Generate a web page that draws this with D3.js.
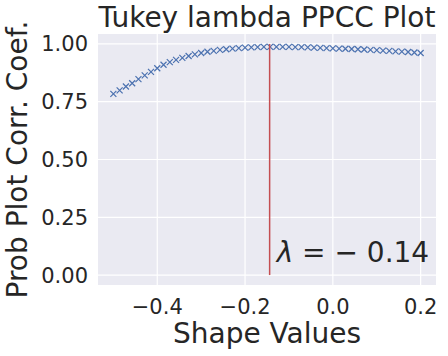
<!DOCTYPE html>
<html>
<head>
<meta charset="utf-8">
<script src="https://cdn.jsdelivr.net/npm/d3@7"></script>
<style>
  body { margin: 0; background: #fff; }
  text { font-family: "DejaVu Sans", sans-serif; fill: #262626; }
</style>
</head>
<body>
<script>
// shape values: 50 points from -0.5 to 0.2
const shapeStart = -0.5;
const shapeStep = 0.7 / 49;
// probability plot correlation coefficient
const ppcc = [
  0.784, 0.799, 0.816, 0.830, 0.848, 0.864, 0.879, 0.895, 0.910, 0.921,
  0.931, 0.940, 0.948, 0.955, 0.961, 0.966, 0.970, 0.974, 0.977, 0.980,
  0.982, 0.984, 0.985, 0.986, 0.987, 0.987, 0.987, 0.987, 0.987, 0.986,
  0.986, 0.985, 0.984, 0.983, 0.982, 0.981, 0.980, 0.979, 0.978, 0.977,
  0.976, 0.974, 0.973, 0.971, 0.970, 0.968, 0.967, 0.965, 0.963, 0.961
];
const shapes = ppcc.map((_, i) => shapeStart + i * shapeStep);
const xTicks = [-0.4, -0.2, 0.0, 0.2];
const yTicks = [0.0, 0.25, 0.5, 0.75, 1.0];
const lambdaMax = -0.144;
const lineTop = 1.0;

const width = 448, height = 356;
const margin = {top: 34, right: 12, bottom: 71, left: 98};

const svg = d3.select("body").append("svg")
  .attr("width", width)
  .attr("height", height);

const x = d3.scaleLinear()
  .domain([-0.535, 0.235])
  .range([margin.left, width - margin.right]);
const y = d3.scaleLinear()
  .domain([-0.043, 1.043])
  .range([height - margin.bottom, margin.top]);

// plot background
svg.append("rect")
  .attr("x", margin.left)
  .attr("y", margin.top)
  .attr("width", width - margin.left - margin.right)
  .attr("height", height - margin.top - margin.bottom)
  .attr("fill", "#EAEAF2");

// grid
svg.append("g").selectAll("line")
  .data(xTicks)
  .join("line")
  .attr("x1", d => x(d)).attr("x2", d => x(d))
  .attr("y1", margin.top).attr("y2", height - margin.bottom)
  .attr("stroke", "#fff").attr("stroke-width", 1.2);
svg.append("g").selectAll("line")
  .data(yTicks)
  .join("line")
  .attr("y1", d => y(d)).attr("y2", d => y(d))
  .attr("x1", margin.left).attr("x2", width - margin.right)
  .attr("stroke", "#fff").attr("stroke-width", 1.2);

// tick labels
svg.append("g").selectAll("text")
  .data(xTicks)
  .join("text")
  .attr("x", d => x(d))
  .attr("y", 314)
  .attr("text-anchor", "middle")
  .style("font-size", "21px")
  .text(d => d3.format(".1f")(d).replace("-", "\u2212"));
svg.append("g").selectAll("text")
  .data(yTicks)
  .join("text")
  .attr("x", 88)
  .attr("y", d => y(d))
  .attr("dy", "0.36em")
  .attr("text-anchor", "end")
  .style("font-size", "21px")
  .text(d => d3.format(".2f")(d));

// markers
const s = 3;
svg.append("g").selectAll("path")
  .data(shapes)
  .join("path")
  .attr("d", (d, i) => {
    const cx = x(d), cy = y(ppcc[i]);
    return `M${cx - s},${cy - s}L${cx + s},${cy + s}M${cx - s},${cy + s}L${cx + s},${cy - s}`;
  })
  .attr("stroke", "#4C72B0")
  .attr("stroke-width", 1.2)
  .attr("fill", "none");

// lambda line
svg.append("line")
  .attr("x1", x(lambdaMax)).attr("x2", x(lambdaMax))
  .attr("y1", y(0)).attr("y2", y(lineTop))
  .attr("stroke", "#C44E52")
  .attr("stroke-width", 1.5);

const lab = svg.append("text")
  .attr("x", x(lambdaMax) + 7)
  .attr("y", 262)
  .style("font-size", "28px");
lab.append("tspan").style("font-style", "italic").text("\u03bb");
lab.append("tspan").text(" = \u2212 " + Math.abs(lambdaMax).toFixed(2));

// title and axis labels
svg.append("text")
  .attr("x", (margin.left + width - margin.right) / 2)
  .attr("y", 27)
  .attr("text-anchor", "middle")
  .style("font-size", "28px")
  .text("Tukey lambda PPCC Plot");
svg.append("text")
  .attr("x", (margin.left + width - margin.right) / 2)
  .attr("y", 343)
  .attr("text-anchor", "middle")
  .style("font-size", "28px")
  .text("Shape Values");
svg.append("text")
  .attr("transform", `translate(27,${(margin.top + height - margin.bottom) / 2}) rotate(-90)`)
  .attr("text-anchor", "middle")
  .style("font-size", "28px")
  .text("Prob Plot Corr. Coef.");
</script>
</body>
</html>
